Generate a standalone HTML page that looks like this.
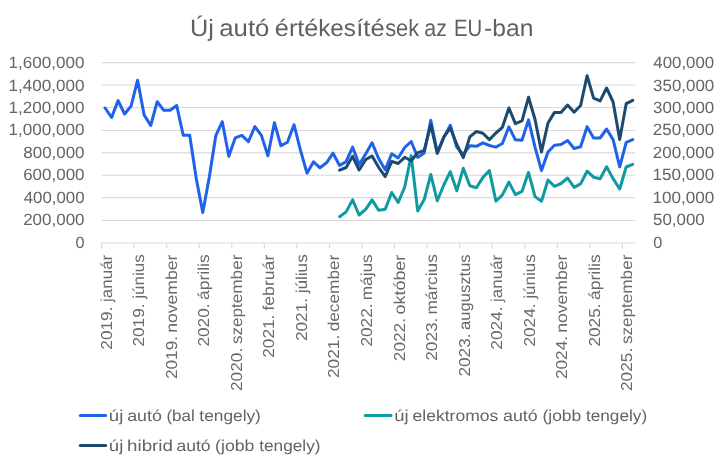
<!DOCTYPE html>
<html lang="hu"><head><meta charset="utf-8"><title>Új autó értékesítések az EU-ban</title>
<style>html,body{margin:0;padding:0;background:#fff;overflow:hidden}svg{display:block;will-change:transform}</style></head>
<body>
<svg width="723" height="467" viewBox="0 0 723 467" font-family="'Liberation Sans', Arial, sans-serif" text-rendering="geometricPrecision">
<rect width="723" height="467" fill="#fff"/>
<line x1="101.6" y1="62.6" x2="635.2" y2="62.6" stroke="#d9d9d9" stroke-width="1.1"/>
<line x1="101.6" y1="85.0" x2="635.2" y2="85.0" stroke="#d9d9d9" stroke-width="1.1"/>
<line x1="101.6" y1="107.5" x2="635.2" y2="107.5" stroke="#d9d9d9" stroke-width="1.1"/>
<line x1="101.6" y1="130.5" x2="635.2" y2="130.5" stroke="#d9d9d9" stroke-width="1.1"/>
<line x1="101.6" y1="152.9" x2="635.2" y2="152.9" stroke="#d9d9d9" stroke-width="1.1"/>
<line x1="101.6" y1="175.3" x2="635.2" y2="175.3" stroke="#d9d9d9" stroke-width="1.1"/>
<line x1="101.6" y1="197.6" x2="635.2" y2="197.6" stroke="#d9d9d9" stroke-width="1.1"/>
<line x1="101.6" y1="220.5" x2="635.2" y2="220.5" stroke="#d9d9d9" stroke-width="1.1"/>
<line x1="101.1" y1="243" x2="635.2" y2="243" stroke="#d9d9d9" stroke-width="1.1"/>
<line x1="101.60" y1="243" x2="101.60" y2="248.6" stroke="#d9d9d9" stroke-width="1.1"/>
<line x1="134.15" y1="243" x2="134.15" y2="248.6" stroke="#d9d9d9" stroke-width="1.1"/>
<line x1="166.70" y1="243" x2="166.70" y2="248.6" stroke="#d9d9d9" stroke-width="1.1"/>
<line x1="199.25" y1="243" x2="199.25" y2="248.6" stroke="#d9d9d9" stroke-width="1.1"/>
<line x1="231.80" y1="243" x2="231.80" y2="248.6" stroke="#d9d9d9" stroke-width="1.1"/>
<line x1="264.35" y1="243" x2="264.35" y2="248.6" stroke="#d9d9d9" stroke-width="1.1"/>
<line x1="296.90" y1="243" x2="296.90" y2="248.6" stroke="#d9d9d9" stroke-width="1.1"/>
<line x1="329.45" y1="243" x2="329.45" y2="248.6" stroke="#d9d9d9" stroke-width="1.1"/>
<line x1="362.00" y1="243" x2="362.00" y2="248.6" stroke="#d9d9d9" stroke-width="1.1"/>
<line x1="394.55" y1="243" x2="394.55" y2="248.6" stroke="#d9d9d9" stroke-width="1.1"/>
<line x1="427.10" y1="243" x2="427.10" y2="248.6" stroke="#d9d9d9" stroke-width="1.1"/>
<line x1="459.65" y1="243" x2="459.65" y2="248.6" stroke="#d9d9d9" stroke-width="1.1"/>
<line x1="492.20" y1="243" x2="492.20" y2="248.6" stroke="#d9d9d9" stroke-width="1.1"/>
<line x1="524.75" y1="243" x2="524.75" y2="248.6" stroke="#d9d9d9" stroke-width="1.1"/>
<line x1="557.30" y1="243" x2="557.30" y2="248.6" stroke="#d9d9d9" stroke-width="1.1"/>
<line x1="589.85" y1="243" x2="589.85" y2="248.6" stroke="#d9d9d9" stroke-width="1.1"/>
<line x1="622.40" y1="243" x2="622.40" y2="248.6" stroke="#d9d9d9" stroke-width="1.1"/>
<text y="35.50" font-size="23.6" fill="#606060"><tspan x="190.00" textLength="23.90" lengthAdjust="spacingAndGlyphs">Új</tspan> <tspan x="219.27" textLength="50.19" lengthAdjust="spacingAndGlyphs">autó</tspan> <tspan x="274.89" textLength="43.55" lengthAdjust="spacingAndGlyphs">érté</tspan><tspan x="318.22" textLength="37.72" lengthAdjust="spacingAndGlyphs">kes</tspan><tspan x="356.25" textLength="28.30" lengthAdjust="spacingAndGlyphs">íté</tspan><tspan x="385.15" textLength="34.04" lengthAdjust="spacingAndGlyphs">sek</tspan> <tspan x="424.34" textLength="22.62" lengthAdjust="spacingAndGlyphs">az</tspan> <tspan x="454.08" textLength="28.19" lengthAdjust="spacingAndGlyphs">EU</tspan><tspan x="484.01" textLength="49.40" lengthAdjust="spacingAndGlyphs">-ban</tspan></text>
<text y="68.15" font-size="16.3" fill="#646464"><tspan x="8.63" textLength="75.89" lengthAdjust="spacingAndGlyphs">1,600,000</tspan></text>
<text y="90.57" font-size="16.3" fill="#646464"><tspan x="8.63" textLength="75.89" lengthAdjust="spacingAndGlyphs">1,400,000</tspan></text>
<text y="112.99" font-size="16.3" fill="#646464"><tspan x="8.63" textLength="75.89" lengthAdjust="spacingAndGlyphs">1,200,000</tspan></text>
<text y="135.41" font-size="16.3" fill="#646464"><tspan x="8.63" textLength="75.89" lengthAdjust="spacingAndGlyphs">1,000,000</tspan></text>
<text y="157.83" font-size="16.3" fill="#646464"><tspan x="23.36" textLength="61.15" lengthAdjust="spacingAndGlyphs">800,000</tspan></text>
<text y="180.25" font-size="16.3" fill="#646464"><tspan x="23.19" textLength="61.32" lengthAdjust="spacingAndGlyphs">600,000</tspan></text>
<text y="202.67" font-size="16.3" fill="#646464"><tspan x="23.70" textLength="60.81" lengthAdjust="spacingAndGlyphs">400,000</tspan></text>
<text y="225.09" font-size="16.3" fill="#646464"><tspan x="23.19" textLength="61.32" lengthAdjust="spacingAndGlyphs">200,000</tspan></text>
<text y="247.51" font-size="16.3" fill="#646464"><tspan x="75.47" textLength="9.02" lengthAdjust="spacingAndGlyphs">0</tspan></text>
<text y="68.15" font-size="16.3" fill="#646464"><tspan x="653.36" textLength="60.81" lengthAdjust="spacingAndGlyphs">400,000</tspan></text>
<text y="90.57" font-size="16.3" fill="#646464"><tspan x="653.11" textLength="61.06" lengthAdjust="spacingAndGlyphs">350,000</tspan></text>
<text y="112.99" font-size="16.3" fill="#646464"><tspan x="653.11" textLength="61.06" lengthAdjust="spacingAndGlyphs">300,000</tspan></text>
<text y="135.41" font-size="16.3" fill="#646464"><tspan x="652.85" textLength="61.32" lengthAdjust="spacingAndGlyphs">250,000</tspan></text>
<text y="157.83" font-size="16.3" fill="#646464"><tspan x="652.85" textLength="61.32" lengthAdjust="spacingAndGlyphs">200,000</tspan></text>
<text y="180.25" font-size="16.3" fill="#646464"><tspan x="652.42" textLength="61.76" lengthAdjust="spacingAndGlyphs">150,000</tspan></text>
<text y="202.67" font-size="16.3" fill="#646464"><tspan x="652.42" textLength="61.76" lengthAdjust="spacingAndGlyphs">100,000</tspan></text>
<text y="225.09" font-size="16.3" fill="#646464"><tspan x="653.02" textLength="51.68" lengthAdjust="spacingAndGlyphs">50,000</tspan></text>
<text y="247.51" font-size="16.3" fill="#646464"><tspan x="653.13" textLength="9.02" lengthAdjust="spacingAndGlyphs">0</tspan></text>
<text y="420.60" font-size="15.8" fill="#646464"><tspan x="108.89" textLength="14.45" lengthAdjust="spacingAndGlyphs">új</tspan> <tspan x="127.19" textLength="34.64" lengthAdjust="spacingAndGlyphs">autó</tspan> <tspan x="166.48" textLength="28.27" lengthAdjust="spacingAndGlyphs">(bal</tspan> <tspan x="199.34" textLength="61.56" lengthAdjust="spacingAndGlyphs">tengely)</tspan></text>
<text y="420.60" font-size="15.8" fill="#646464"><tspan x="394.20" textLength="14.33" lengthAdjust="spacingAndGlyphs">új</tspan> <tspan x="412.60" textLength="85.71" lengthAdjust="spacingAndGlyphs">elektromos</tspan> <tspan x="502.99" textLength="34.64" lengthAdjust="spacingAndGlyphs">autó</tspan> <tspan x="542.45" textLength="38.87" lengthAdjust="spacingAndGlyphs">(jobb</tspan> <tspan x="585.94" textLength="61.26" lengthAdjust="spacingAndGlyphs">tengely)</tspan></text>
<text y="450.70" font-size="15.8" fill="#646464"><tspan x="108.89" textLength="14.45" lengthAdjust="spacingAndGlyphs">új</tspan> <tspan x="127.08" textLength="45.87" lengthAdjust="spacingAndGlyphs">hibrid</tspan> <tspan x="176.40" textLength="34.12" lengthAdjust="spacingAndGlyphs">autó</tspan> <tspan x="215.14" textLength="39.29" lengthAdjust="spacingAndGlyphs">(jobb</tspan> <tspan x="259.24" textLength="61.26" lengthAdjust="spacingAndGlyphs">tengely)</tspan></text>
<text transform="translate(111.6,349.7) rotate(-90)" y="0" font-size="15.8" fill="#6a6a6a"><tspan x="0.04" textLength="43.14" lengthAdjust="spacingAndGlyphs">2019.</tspan> <tspan x="47.81" textLength="47.16" lengthAdjust="spacingAndGlyphs">január</tspan></text>
<text transform="translate(144.1,346.6) rotate(-90)" y="0" font-size="15.8" fill="#6a6a6a"><tspan x="0.04" textLength="43.14" lengthAdjust="spacingAndGlyphs">2019.</tspan> <tspan x="47.81" textLength="44.51" lengthAdjust="spacingAndGlyphs">június</tspan></text>
<text transform="translate(176.7,379.1) rotate(-90)" y="0" font-size="15.8" fill="#6a6a6a"><tspan x="0.04" textLength="43.14" lengthAdjust="spacingAndGlyphs">2019.</tspan> <tspan x="46.24" textLength="78.18" lengthAdjust="spacingAndGlyphs">november</tspan></text>
<text transform="translate(209.2,346.6) rotate(-90)" y="0" font-size="15.8" fill="#6a6a6a"><tspan x="0.04" textLength="43.14" lengthAdjust="spacingAndGlyphs">2020.</tspan> <tspan x="46.69" textLength="45.60" lengthAdjust="spacingAndGlyphs">április</tspan></text>
<text transform="translate(241.8,391.0) rotate(-90)" y="0" font-size="15.8" fill="#6a6a6a"><tspan x="0.04" textLength="43.14" lengthAdjust="spacingAndGlyphs">2020.</tspan> <tspan x="46.96" textLength="89.41" lengthAdjust="spacingAndGlyphs">szeptember</tspan></text>
<text transform="translate(274.3,357.8) rotate(-90)" y="0" font-size="15.8" fill="#6a6a6a"><tspan x="0.04" textLength="43.14" lengthAdjust="spacingAndGlyphs">2021.</tspan> <tspan x="47.21" textLength="55.88" lengthAdjust="spacingAndGlyphs">február</tspan></text>
<text transform="translate(306.9,341.1) rotate(-90)" y="0" font-size="15.8" fill="#6a6a6a"><tspan x="0.04" textLength="43.14" lengthAdjust="spacingAndGlyphs">2021.</tspan> <tspan x="47.81" textLength="38.99" lengthAdjust="spacingAndGlyphs">július</tspan></text>
<text transform="translate(339.4,378.0) rotate(-90)" y="0" font-size="15.8" fill="#6a6a6a"><tspan x="0.04" textLength="43.14" lengthAdjust="spacingAndGlyphs">2021.</tspan> <tspan x="46.70" textLength="76.64" lengthAdjust="spacingAndGlyphs">december</tspan></text>
<text transform="translate(372.0,346.6) rotate(-90)" y="0" font-size="15.8" fill="#6a6a6a"><tspan x="0.04" textLength="43.14" lengthAdjust="spacingAndGlyphs">2022.</tspan> <tspan x="46.26" textLength="46.05" lengthAdjust="spacingAndGlyphs">május</tspan></text>
<text transform="translate(404.5,361.2) rotate(-90)" y="0" font-size="15.8" fill="#6a6a6a"><tspan x="0.04" textLength="43.14" lengthAdjust="spacingAndGlyphs">2022.</tspan> <tspan x="46.67" textLength="59.89" lengthAdjust="spacingAndGlyphs">október</tspan></text>
<text transform="translate(437.1,360.8) rotate(-90)" y="0" font-size="15.8" fill="#6a6a6a"><tspan x="0.04" textLength="43.14" lengthAdjust="spacingAndGlyphs">2023.</tspan> <tspan x="46.27" textLength="60.27" lengthAdjust="spacingAndGlyphs">március</tspan></text>
<text transform="translate(469.6,376.6) rotate(-90)" y="0" font-size="15.8" fill="#6a6a6a"><tspan x="0.04" textLength="43.14" lengthAdjust="spacingAndGlyphs">2023.</tspan> <tspan x="46.72" textLength="75.51" lengthAdjust="spacingAndGlyphs">augusztus</tspan></text>
<text transform="translate(502.2,349.7) rotate(-90)" y="0" font-size="15.8" fill="#6a6a6a"><tspan x="0.04" textLength="43.14" lengthAdjust="spacingAndGlyphs">2024.</tspan> <tspan x="47.81" textLength="47.16" lengthAdjust="spacingAndGlyphs">január</tspan></text>
<text transform="translate(534.7,346.6) rotate(-90)" y="0" font-size="15.8" fill="#6a6a6a"><tspan x="0.04" textLength="43.14" lengthAdjust="spacingAndGlyphs">2024.</tspan> <tspan x="47.81" textLength="44.51" lengthAdjust="spacingAndGlyphs">június</tspan></text>
<text transform="translate(567.3,379.1) rotate(-90)" y="0" font-size="15.8" fill="#6a6a6a"><tspan x="0.04" textLength="43.14" lengthAdjust="spacingAndGlyphs">2024.</tspan> <tspan x="46.24" textLength="78.18" lengthAdjust="spacingAndGlyphs">november</tspan></text>
<text transform="translate(599.8,346.6) rotate(-90)" y="0" font-size="15.8" fill="#6a6a6a"><tspan x="0.04" textLength="43.14" lengthAdjust="spacingAndGlyphs">2025.</tspan> <tspan x="46.69" textLength="45.60" lengthAdjust="spacingAndGlyphs">április</tspan></text>
<text transform="translate(632.4,391.0) rotate(-90)" y="0" font-size="15.8" fill="#6a6a6a"><tspan x="0.04" textLength="43.14" lengthAdjust="spacingAndGlyphs">2025.</tspan> <tspan x="46.96" textLength="89.41" lengthAdjust="spacingAndGlyphs">szeptember</tspan></text>
<polyline points="105.1,108.0 111.6,117.5 118.1,100.6 124.6,114.0 131.1,106.0 137.6,80.2 144.1,114.9 150.7,125.5 157.2,101.7 163.7,110.3 170.2,110.3 176.7,105.5 183.2,135.3 189.7,135.3 196.3,178.7 202.8,212.6 209.3,177.1 215.8,135.7 222.3,121.7 228.8,156.3 235.3,137.8 241.9,135.4 248.4,141.7 254.9,126.6 261.4,135.4 267.9,155.8 274.4,122.7 280.9,145.8 287.4,142.3 294.0,124.7 300.5,150.3 307.0,173.2 313.5,161.8 320.0,167.8 326.5,162.8 333.0,153.2 339.6,165.5 346.1,161.6 352.6,147.1 359.1,164.5 365.6,154.0 372.1,142.8 378.6,158.5 385.2,169.8 391.7,153.8 398.2,158.0 404.7,147.5 411.2,141.5 417.7,157.4 424.2,153.0 430.8,120.2 437.3,152.6 443.8,137.4 450.3,125.3 456.8,147.3 463.3,154.4 469.8,145.8 476.4,146.3 482.9,142.9 489.4,145.5 495.9,147.1 502.4,143.5 508.9,126.8 515.4,139.8 522.0,140.3 528.5,119.9 535.0,147.1 541.5,170.6 548.0,152.0 554.5,145.2 561.0,144.6 567.6,140.5 574.1,148.5 580.6,146.7 587.1,126.7 593.6,138.0 600.1,138.0 606.6,129.0 613.1,139.6 619.7,166.8 626.2,142.3 632.7,139.6" fill="none" stroke="#1f62ea" stroke-width="3" stroke-linejoin="round" stroke-linecap="round"/>
<polyline points="339.6,216.7 346.1,211.9 352.6,199.9 359.1,215.0 365.6,209.3 372.1,199.9 378.6,210.2 385.2,209.3 391.7,192.5 398.2,202.5 404.7,187.0 411.2,155.6 417.7,210.9 424.2,199.6 430.8,174.5 437.3,200.8 443.8,185.0 450.3,171.7 456.8,190.8 463.3,168.3 469.8,185.7 476.4,187.7 482.9,177.4 489.4,170.6 495.9,201.1 502.4,194.9 508.9,182.1 515.4,194.6 522.0,191.4 528.5,172.3 535.0,196.6 541.5,201.2 548.0,180.0 554.5,186.3 561.0,183.5 567.6,178.0 574.1,187.3 580.6,183.9 587.1,171.2 593.6,177.2 600.1,178.7 606.6,166.7 613.1,178.6 619.7,189.0 626.2,167.0 632.7,164.4" fill="none" stroke="#0e9aa0" stroke-width="3" stroke-linejoin="round" stroke-linecap="round"/>
<polyline points="339.6,170.1 346.1,167.5 352.6,156.3 359.1,170.0 365.6,159.6 372.1,156.0 378.6,167.3 385.2,176.6 391.7,161.4 398.2,163.5 404.7,157.3 411.2,160.8 417.7,152.8 424.2,150.4 430.8,124.8 437.3,153.4 443.8,137.1 450.3,128.0 456.8,144.5 463.3,157.6 469.8,136.9 476.4,131.5 482.9,133.2 489.4,139.6 495.9,133.0 502.4,127.3 508.9,108.0 515.4,123.6 522.0,120.9 528.5,97.3 535.0,119.3 541.5,151.9 548.0,123.0 554.5,112.4 561.0,112.4 567.6,105.1 574.1,112.2 580.6,105.5 587.1,75.7 593.6,98.2 600.1,100.9 606.6,88.0 613.1,102.0 619.7,139.4 626.2,103.7 632.7,100.3" fill="none" stroke="#1c4a6e" stroke-width="3" stroke-linejoin="round" stroke-linecap="round"/>
<line x1="80.3" y1="415.6" x2="105.6" y2="415.6" stroke="#1f62ea" stroke-width="3" stroke-linecap="round"/>
<line x1="365.3" y1="415.6" x2="391.0" y2="415.6" stroke="#0e9aa0" stroke-width="3" stroke-linecap="round"/>
<line x1="80.3" y1="445.5" x2="105.6" y2="445.5" stroke="#1c4a6e" stroke-width="3" stroke-linecap="round"/>
</svg>
</body></html>
